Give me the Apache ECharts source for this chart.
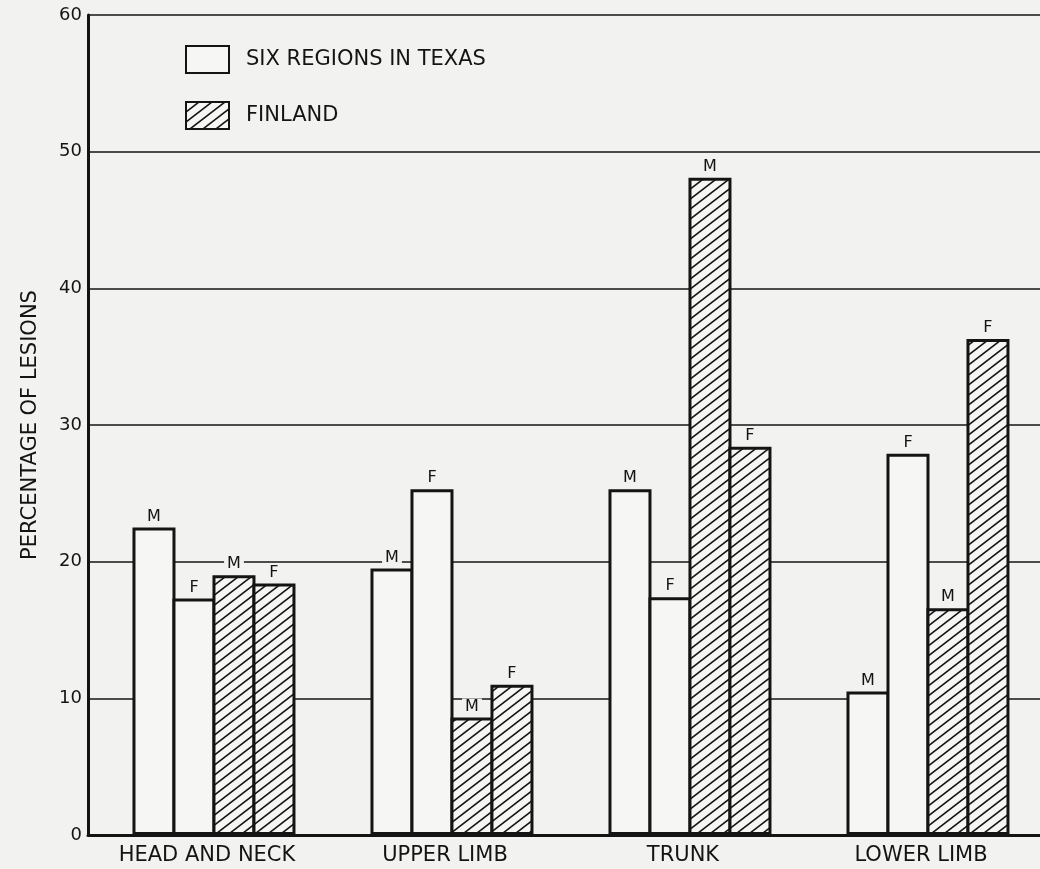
<!DOCTYPE html>
<html>
<head>
<meta charset="utf-8">
<script src="https://cdn.jsdelivr.net/npm/echarts@6/dist/echarts.min.js"></script>
<style>
  html, body { margin: 0; padding: 0; background: #f2f2f0; }
  #chart { width: 1040px; height: 869px; }
</style>
</head>
<body>
<div id="chart"></div>
<script>
// ---- data ----
const categories = ['HEAD AND NECK', 'UPPER LIMB', 'TRUNK', 'LOWER LIMB'];
const texasMale = [22.5, 19.5, 25.3, 10.5];
const texasFemale = [17.3, 25.3, 17.4, 27.9];
const finlandMale = [19.0, 8.6, 48.1, 16.6];
const finlandFemale = [18.4, 11.0, 28.4, 36.3];
const yTicks = { min: 0, max: 60, interval: 10 };
const legendNames = ['SIX REGIONS IN TEXAS', 'FINLAND'];

// ---- styles ----
const FONT = 'DejaVu Sans';
const INK = '#141414';
const BG = '#f2f2f0';
const FILL = '#f6f6f4';
const BAR_W = 43;
const BORDER = 3;

function hatchPattern() {
  const W = 13, H = 10;
  const c = document.createElement('canvas');
  c.width = W; c.height = H;
  const g = c.getContext('2d');
  g.fillStyle = FILL;
  g.fillRect(0, 0, W, H);
  g.strokeStyle = INK;
  g.lineWidth = 1.6;
  for (const dx of [-W, 0, W]) {
    g.beginPath();
    g.moveTo(-W + dx, 2 * H);
    g.lineTo(2 * W + dx, -H);
    g.stroke();
  }
  return { image: c, repeat: 'repeat' };
}
const hatch = hatchPattern();
const GAP = (-BORDER / BAR_W * 100).toFixed(2) + '%';

function barSeries(name, data, letter, fill) {
  return {
    name: name,
    type: 'bar',
    data: data,
    barWidth: BAR_W,
    barGap: GAP,
    itemStyle: { color: fill, borderColor: INK, borderWidth: BORDER },
    label: {
      show: true,
      position: 'top',
      distance: 3,
      formatter: letter,
      fontFamily: FONT,
      fontSize: 16,
      color: INK,
      backgroundColor: BG,
      padding: [0, 3, 0, 3]
    },
    emphasis: { disabled: true }
  };
}

const chart = echarts.init(document.getElementById('chart'), null, { renderer: 'canvas' });
chart.setOption({
  backgroundColor: BG,
  animation: false,
  textStyle: { fontFamily: FONT, color: INK },
  grid: { left: 88, right: 0, top: 15, bottom: 34, containLabel: false },
  legend: {
    data: legendNames.map(n => ({ name: n, icon: 'rect' })),
    orient: 'vertical',
    left: 185,
    top: 45,
    padding: 0,
    itemWidth: 43,
    itemHeight: 27,
    itemGap: 27,
    selectedMode: false,
    textStyle: { fontFamily: FONT, fontSize: 21, color: INK, padding: [0, 0, 0, 12] }
  },
  xAxis: {
    type: 'category',
    data: categories,
    axisTick: { show: false },
    axisLine: { lineStyle: { color: INK, width: 3 } },
    axisLabel: { fontFamily: FONT, fontSize: 21, color: INK, margin: 10 },
    splitLine: { show: false }
  },
  yAxis: {
    type: 'value',
    min: yTicks.min,
    max: yTicks.max,
    interval: yTicks.interval,
    name: 'PERCENTAGE OF LESIONS',
    nameLocation: 'middle',
    nameGap: 47,
    nameTextStyle: { fontFamily: FONT, fontSize: 21, color: INK },
    axisLine: { show: true, lineStyle: { color: INK, width: 3 } },
    axisTick: { show: false },
    axisLabel: { fontFamily: FONT, fontSize: 18, color: INK, margin: 6 },
    splitLine: { lineStyle: { color: INK, width: 1.5 } }
  },
  series: [
    { name: 'spacer', type: 'bar', data: categories.map(() => null), barWidth: 15, barGap: GAP, silent: true },
    barSeries(legendNames[0], texasMale, 'M', FILL),
    barSeries(legendNames[0], texasFemale, 'F', FILL),
    barSeries(legendNames[1], finlandMale, 'M', hatch),
    barSeries(legendNames[1], finlandFemale, 'F', hatch)
  ]
});
</script>
</body>
</html>
